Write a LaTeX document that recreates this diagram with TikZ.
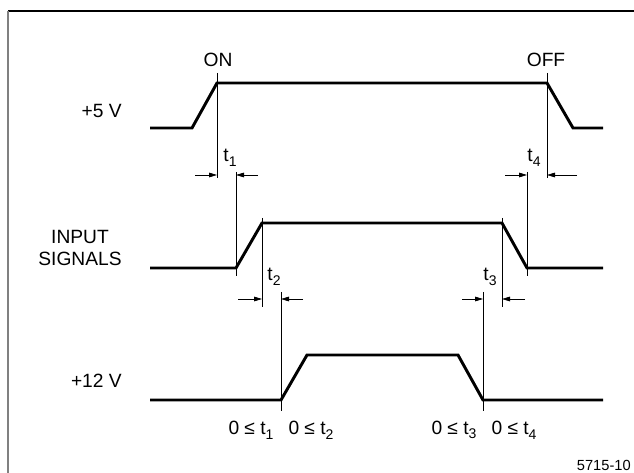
\documentclass[tikz,border=0pt]{standalone}
\usepackage{fontspec}
\setmainfont{Liberation Sans}
\usetikzlibrary{arrows.meta,positioning}
\newcommand{\tsub}[1]{t\raisebox{-3.5pt}{\fontsize{10.5}{11}\selectfont #1}}
\tikzset{
  wave/.style={line width=2.2pt},
  tick/.style={line width=0.6pt},
  dimarrow/.style={line width=0.6pt, -{Triangle[length=6pt,width=3.5pt]}},
  lbl/.style={inner sep=0pt, font=\fontsize{14.4}{17}\selectfont}
}
\begin{document}
\begin{tikzpicture}[x=0.75pt,y=-0.75pt]
  \useasboundingbox (0,0) rectangle (634,473);
  % frame
  \draw[line width=1.5pt] (8,11) -- (634,11);
  \draw[line width=2pt, gray] (8,11) -- (8,473);
  % signals
  \node[lbl, anchor=east] (v5) at (122,111) {+5 V};
  \node[lbl, align=center] (inp) at (80,248) {INPUT\\SIGNALS};
  \node[lbl, anchor=east] (v12) at (122,381) {+12 V};
  \draw[wave] (150,128) -- (192,128) -- (217,83) -- (547,83) -- (573,128) -- (603,128);
  \draw[wave] (150,268) -- (236,268) -- (262,223) -- (502,223) -- (527,268) -- (603,268);
  \draw[wave] (150,400) -- (281,400) -- (307,355) -- (458,355) -- (483,400) -- (603,400);
  \node[lbl] (on) at (218,60) {ON};
  \node[lbl] (off) at (546,60) {OFF};
  % timing marks
  \foreach \x/\a/\b in {217/73/178, 236/172/276, 262/218/307, 281/292/411,
                        547/73/178, 527/172/276, 502/218/307, 483/292/411}
    \draw[tick] (\x,\a) -- (\x,\b);
  \foreach \s/\e/\y in {195/217/175, 258/236/175, 505/527/175, 577/547/175,
                        238/262/299, 303/281/299, 462/483/299, 525/502/299}
    \draw[dimarrow] (\s,\y) -- (\e,\y);
  \node[lbl] (t1) at (230,158) {\tsub{1}};
  \node[lbl] (t4) at (534,158) {\tsub{4}};
  \node[lbl] (t2) at (274,277) {\tsub{2}};
  \node[lbl] (t3) at (490,277) {\tsub{3}};
  \foreach \x/\n in {251/1, 311/2, 454/3, 514/4}
    \node[lbl] (le\n) at (\x,430) {0 ≤ \tsub{\n}};
  \node[inner sep=0pt, anchor=base east, font=\fontsize{11}{12}\selectfont] (fig) at (631,470) {5715-10};
\end{tikzpicture}
\end{document}
